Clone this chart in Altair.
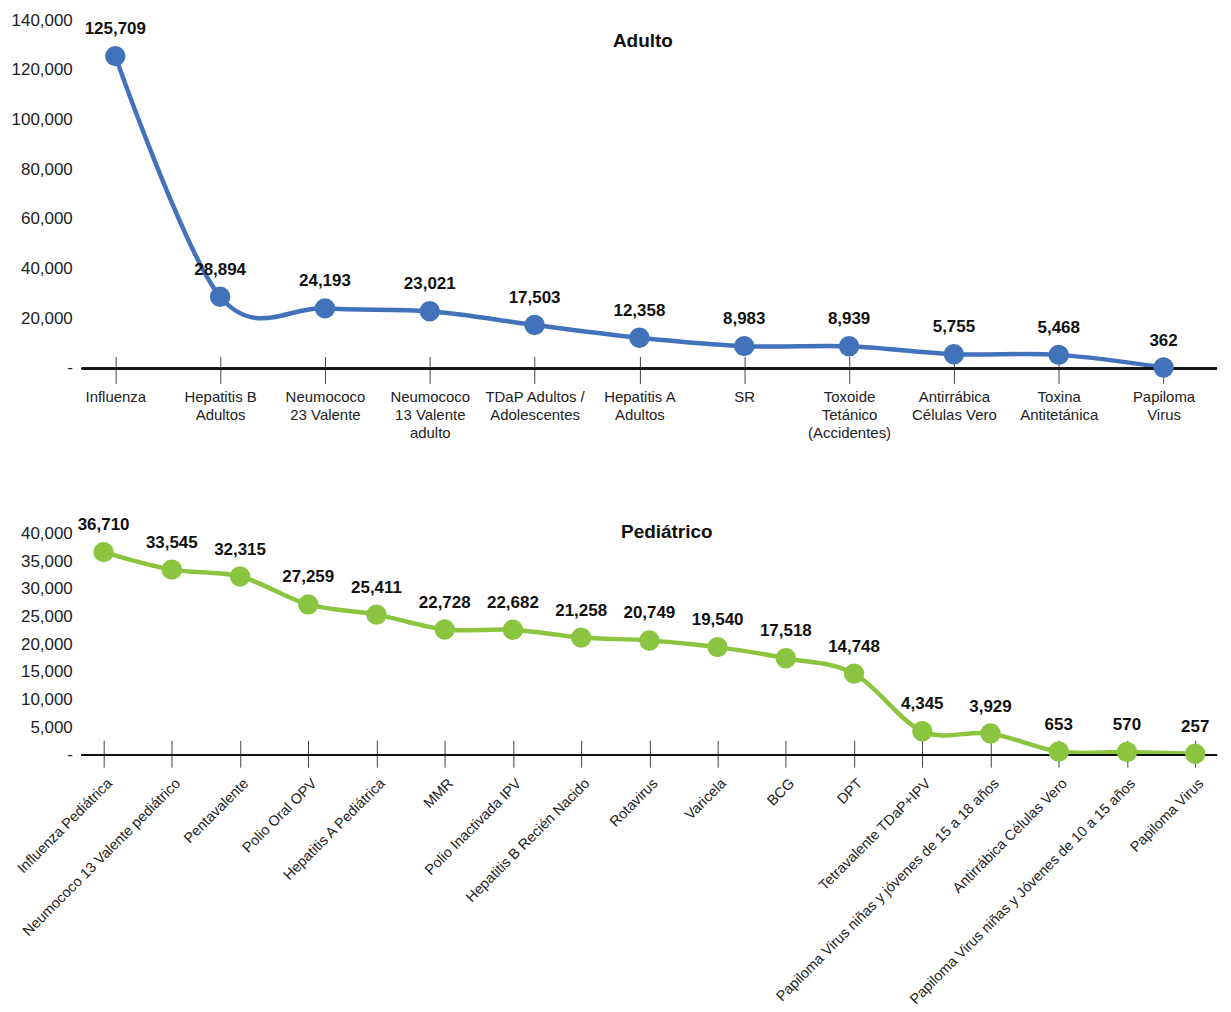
import altair as alt
import pandas as pd

adult_cats = ["Influenza", "Hepatitis B\nAdultos", "Neumococo\n23 Valente",
              "Neumococo\n13 Valente\nadulto", "TDaP Adultos /\nAdolescentes",
              "Hepatitis A\nAdultos", "SR", "Toxoide\nTetánico\n(Accidentes)",
              "Antirrábica\nCélulas Vero", "Toxina\nAntitetánica", "Papiloma\nVirus"]
adult_vals = [125709, 28894, 24193, 23021, 17503, 12358, 8983, 8939, 5755, 5468, 362]

ped_cats = ["Influenza Pediátrica", "Neumococo 13 Valente pediátrico", "Pentavalente",
            "Polio Oral OPV", "Hepatitis A Pediátrica", "MMR", "Polio Inactivada IPV",
            "Hepatitis B Recién Nacido", "Rotavirus", "Varicela", "BCG", "DPT",
            "Tetravalente TDaP+IPV", "Papiloma Virus niñas y jóvenes de 15 a 18 años",
            "Antirrábica Células Vero", "Papiloma Virus niñas y Jóvenes de 10 a 15 años",
            "Papiloma Virus"]
ped_vals = [36710, 33545, 32315, 27259, 25411, 22728, 22682, 21258, 20749, 19540,
            17518, 14748, 4345, 3929, 653, 570, 257]

adult_ticks = [0, 20000, 40000, 60000, 80000, 100000, 120000, 140000]
ped_ticks = [0, 5000, 10000, 15000, 20000, 25000, 30000, 35000, 40000]

FONT = "Liberation Sans"
BLUE = "#4172BA"
GREEN = "#8BC53F"

adult_df = pd.DataFrame({"cat": adult_cats, "v": adult_vals})
ped_df = pd.DataFrame({"cat": ped_cats, "v": ped_vals})


def panel(df, cats, ticks, color, width, height, rule_w, title, title_x, title_y, angle):
    if angle:
        xaxis = alt.Axis(title=None, domain=False, tickSize=27, offset=-15,
                         tickColor="#444", labelAngle=-45, labelAlign="right",
                         labelBaseline="top", labelFont=FONT, labelFontSize=14.5,
                         labelColor="#222", labelPadding=9, labelOffset=1,
                         labelLimit=0, labelOverlap=False)
    else:
        xaxis = alt.Axis(title=None, domain=False, tickSize=27, offset=-12,
                         tickColor="#444", labelAngle=0,
                         labelExpr="split(datum.label, '\\n')",
                         labelFont=FONT, labelFontSize=15, labelColor="#222",
                         labelPadding=6, labelLineHeight=18, labelLimit=0,
                         labelOverlap=False)
    sc = alt.Scale(domain=[ticks[0], ticks[-1]], nice=False)
    x = alt.X("cat:N", sort=cats, scale=alt.Scale(type="point", padding=0.32), axis=xaxis)
    x_plain = alt.X("cat:N", sort=cats)
    y_axis = alt.Y("v:Q", scale=sc,
                   axis=alt.Axis(title=None, domain=False, ticks=False, grid=False,
                                 labels=False))
    base = alt.Chart(df)
    line = base.mark_line(color=color, strokeWidth=4.5, interpolate="cardinal").encode(x=x, y=y_axis)
    zero = base.mark_rule(color="#111", strokeWidth=1.5).encode(
        y=alt.datum(0), x=alt.value(0), x2=alt.value(rule_w))
    pts = base.mark_circle(color=color, size=420, opacity=1).encode(x=x_plain, y=alt.Y("v:Q"))
    labels = base.mark_text(font=FONT, fontSize=17, fontWeight="bold", color="#111",
                            dy=-27).encode(x=x_plain, y=alt.Y("v:Q"),
                                           text=alt.Text("v:Q", format=","))
    tick_df = pd.DataFrame({"v": ticks,
                            "lab": ["-" if t == 0 else f"{t:,}" for t in ticks]})
    ylabels = alt.Chart(tick_df).mark_text(font=FONT, fontSize=17, color="#222",
                                           align="right", baseline="middle").encode(
        y=alt.Y("v:Q"), x=alt.value(-9), text="lab:N")
    ttl = alt.Chart(pd.DataFrame({"t": [title]})).mark_text(
        font=FONT, fontSize=19, fontWeight="bold", color="#111").encode(
        text="t:N", x=alt.value(title_x), y=alt.value(title_y))
    return alt.layer(line, zero, pts, labels, ylabels, ttl).properties(width=width, height=height)


top = panel(adult_df, adult_cats, adult_ticks, BLUE, 1119, 349, 1139, "Adulto", 563, 20, False)
bottom = panel(ped_df, ped_cats, ped_ticks, GREEN, 1139, 222, 1139, "Pediátrico", 587, -2, True)

chart = alt.vconcat(top, bottom, spacing=76).properties(
    padding={"left": 3, "top": 2, "right": 5, "bottom": 5},
    background="white"
).configure_view(stroke=None, strokeWidth=0)

chart.save("out.html", embed_options={"renderer": "svg", "actions": False})
